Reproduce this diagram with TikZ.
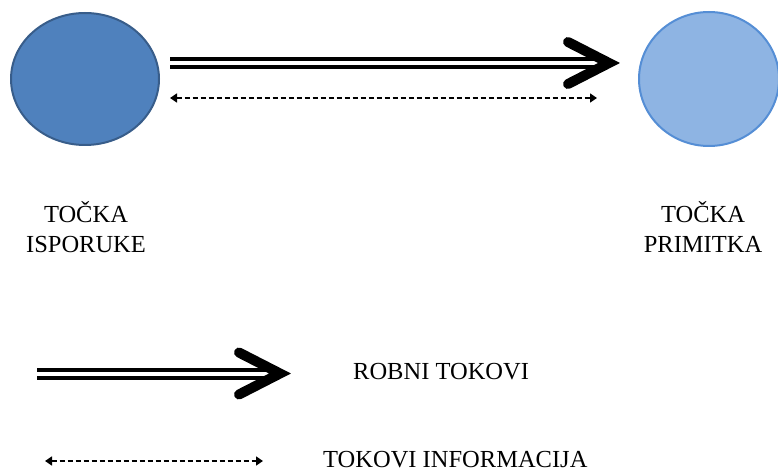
\documentclass[tikz,border=0pt]{standalone}
\usepackage{fontspec}
\setmainfont{Liberation Serif}
\usetikzlibrary{shapes.geometric,arrows.meta}
\definecolor{tamnoplava}{RGB}{79,129,189}
\definecolor{tamnoplavarub}{RGB}{56,93,138}
\definecolor{svijetloplava}{RGB}{142,180,227}
\definecolor{svijetloplavarub}{RGB}{85,142,213}
\begin{document}
\begin{tikzpicture}[x=1pt,y=-1pt,line join=bevel,
  tocka/.style={ellipse,inner sep=0pt,line width=2pt},
  robni/.style={double,line width=4pt,double distance=4pt},
  vrh/.style={line width=10pt,line cap=round,line join=miter},
  info/.style={line width=1.5pt,dash pattern=on 5pt off 3pt,{Triangle[length=7pt,width=9pt]}-{Triangle[length=7pt,width=9pt]}},
  natpis/.style={font=\fontsize{24.5}{30}\selectfont,align=center,inner sep=0pt}]
\useasboundingbox (0,0) rectangle (778,470);
%%
\node (tocka_isporuke) at (85,79) [tocka,draw=tamnoplavarub,fill=tamnoplava,minimum width=148pt,minimum height=132pt] {};
  \node (tocka_primitka) at (709,79) [tocka,draw=svijetloplavarub,fill=svijetloplava,minimum width=140pt,minimum height=134pt] {};
  \node (natpis_isporuke) at (86,252) [natpis,anchor=base] {TOČKA\\ISPORUKE};
  \node (natpis_primitka) at (703,252) [natpis,anchor=base] {TOČKA\\PRIMITKA};
  \node (natpis_robni) at (353,379) [natpis,anchor=base west] {ROBNI TOKOVI};
  \node (natpis_info) at (323,467) [natpis,anchor=base west] {TOKOVI INFORMACIJA};
  \coordinate (vrh_gore) at ([xshift=-29pt,yshift=16pt]tocka_primitka.west);
  \coordinate (robni_poc) at (37,373.5);
  \coordinate (robni_vrh) at (280,373.5);
  \coordinate (info_poc) at (45,461);
  \coordinate (info_kraj) at (263,461);
  \draw [robni,shorten <=10pt,shorten >=3pt] ([yshift=16pt]tocka_isporuke.east) -- (vrh_gore);
  \draw [vrh] (vrh_gore) ++(-41,-21) -- (vrh_gore) -- ++(-41,21);
  \draw [info,shorten <=10pt,shorten >=41pt] ([yshift=-19pt]tocka_isporuke.east) -- ([yshift=-19pt]tocka_primitka.west);
  \draw [robni,shorten >=3pt] (robni_poc) -- (robni_vrh);
  \draw [vrh] (robni_vrh) ++(-41,-21) -- (robni_vrh) -- ++(-41,21);
  \draw [info] (info_poc) -- (info_kraj);
%
\end{tikzpicture}
\end{document}
